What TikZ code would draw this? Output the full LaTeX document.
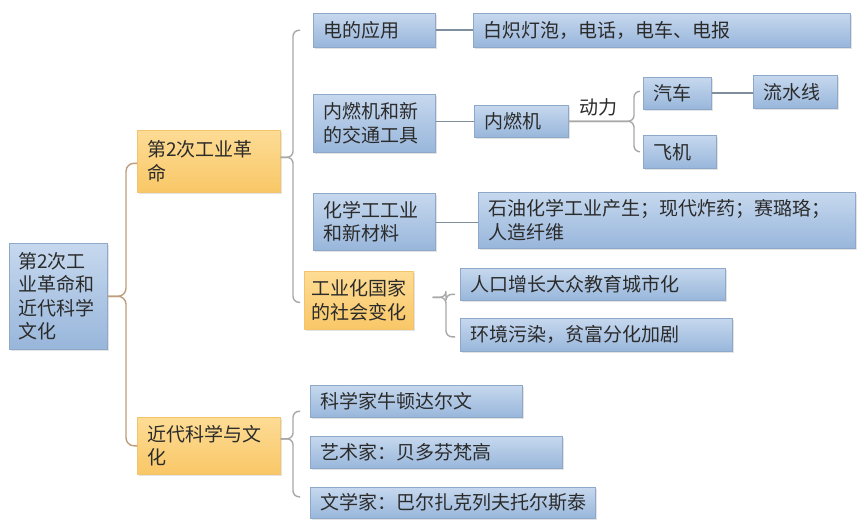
\documentclass[tikz,border=0pt]{standalone}
\usepackage{fontspec}
\newfontfamily\cjk{Noto Sans CJK SC}
\usetikzlibrary{shadows,calc}
\definecolor{bluetop}{HTML}{C6D8EE}
\definecolor{bluebot}{HTML}{98B6DB}
\definecolor{blueedge}{HTML}{8DA8C9}
\definecolor{orgtop}{HTML}{FDDC95}
\definecolor{orgbot}{HTML}{F9C767}
\definecolor{orgedge}{HTML}{F3C46C}
\definecolor{bracegray}{HTML}{A8A8A8}
\definecolor{bracetan}{HTML}{BE9E7C}
\definecolor{linkgray}{HTML}{7F8E9C}
\definecolor{txt}{HTML}{2B2B2B}
\tikzset{
  boxbase/.style={anchor=north west, inner xsep=10pt, inner ysep=0pt, align=left,
    font=\cjk\fontsize{19}{23.5}\selectfont, text=txt,
    drop shadow={opacity=0.22, shadow xshift=1.2pt, shadow yshift=-1.5pt}},
  bluebox/.style={boxbase, draw=blueedge, line width=0.6pt, top color=bluetop, bottom color=bluebot},
  orangebox/.style={boxbase, draw=orgedge, line width=0.6pt, top color=orgtop, bottom color=orgbot},
  brace/.style={draw=bracegray, line width=1.4pt, rounded corners=6pt},
  rootbrace/.style={draw=bracetan, line width=1.4pt, rounded corners=8pt},
  link/.style={draw=linkgray, line width=1.6pt},
  lbl/.style={font=\cjk\fontsize{19}{23.5}\selectfont, text=txt, inner sep=0pt}
}
\begin{document}
\begin{tikzpicture}[x=1pt,y=-1pt]
\useasboundingbox[fill=white] (0,0) rectangle (858,524);

% level 1
\node[bluebox, inner xsep=9pt, text width=80pt, minimum height=106pt] (root) at (9,243) {第2次工\\业革命和\\近代科学\\文化};

% level 2
\node[orangebox, text width=123pt, minimum height=62pt] (rev) at (137,130) {第2次工业革\\命};
\node[orangebox, text width=123pt, minimum height=57pt] (sci) at (137,417) {近代科学与文\\化};

% level 3
\node[bluebox, text width=102pt, minimum height=34pt] (ea) at (313,13) {电的应用};
\node[bluebox, text width=102pt, minimum height=58pt] (ice) at (313,94) {内燃机和新\\的交通工具};
\node[bluebox, text width=102pt, minimum height=57pt] (chem) at (313,193) {化学工工业\\和新材料};
\node[orangebox, inner xsep=7pt, text width=95pt, minimum height=58pt] (soc) at (304,271) {工业化国家\\的社会变化};

\node[bluebox, text width=192pt, minimum height=32pt] (sc1) at (310,385) {科学家牛顿达尔文};
\node[bluebox, text width=232pt, minimum height=32pt] (sc2) at (310,436) {艺术家：贝多芬梵高};
\node[bluebox, text width=265pt, minimum height=31pt] (sc3) at (310,487) {文学家：巴尔扎克列夫托尔斯泰};

% level 4
\node[bluebox, text width=357pt, minimum height=34pt] (bulb) at (473,13) {白炽灯泡，电话，电车、电报};
\node[bluebox, text width=74pt, minimum height=32pt] (eng) at (474,105) {内燃机};
\node[bluebox, text width=357pt, minimum height=56pt] (petro) at (478,192) {石油化学工业产生；现代炸药；赛璐珞；\\人造纤维};
\node[bluebox, text width=245pt, minimum height=32pt] (pop) at (460,268) {人口增长大众教育城市化};
\node[bluebox, text width=252pt, minimum height=33pt] (env) at (460,318) {环境污染，贫富分化加剧};

% level 5
\node[bluebox, text width=48pt, minimum height=32pt] (car) at (643,77) {汽车};
\node[bluebox, text width=53pt, minimum height=33pt] (plane) at (643,135) {飞机};
\node[bluebox, text width=64pt, minimum height=33pt] (flow) at (753,75) {流水线};

\node[lbl] (pw) at (598,107) {动力};

% braces
\draw[rootbrace] ([yshift=-2pt]rev.west) -- ++(-11,0) |- (root.east);
\draw[rootbrace] (sci.west) -- ++(-11,0) |- (root.east);

\draw[brace] ([xshift=-13pt]ea.west) -- ++(-7,0) |- ([yshift=4pt]rev.east);
\draw[brace] ([xshift=-4pt,yshift=-2pt]soc.west) -- ++(-7,0) |- ([yshift=4pt]rev.east);

\draw[brace] ([xshift=-10pt,yshift=-10pt]sc1.west) -- ++(-7,0) |- ([yshift=7pt]sci.east);
\draw[brace] ([xshift=-10pt,yshift=6pt]sc3.west) -- ++(-7,0) |- ([yshift=7pt]sci.east);

\draw[brace] ([xshift=-5pt,yshift=-10pt]pop.west) -- ++(-9,0) |- ([xshift=19pt,yshift=3pt]soc.east);
\draw[brace] ([xshift=-5pt,yshift=-2pt]env.west) -- ++(-9,0) |- ([xshift=19pt,yshift=3pt]soc.east);

\draw[brace] ([xshift=-3pt,yshift=2pt]car.west) -- ++(-6,0) |- (eng.east);
\draw[brace] ([xshift=-3pt]plane.west) -- ++(-6,0) |- (eng.east);

% straight links
\draw[link] (ea.east) -- (bulb.west);
\draw[link] (eng.west -| ice.east) -- (eng.west);
\draw[link] ([yshift=-2pt]petro.west -| chem.east) -- ([yshift=-2pt]petro.west);
\draw[link] (car.east) -- (car.east -| flow.west);
\end{tikzpicture}
\end{document}
